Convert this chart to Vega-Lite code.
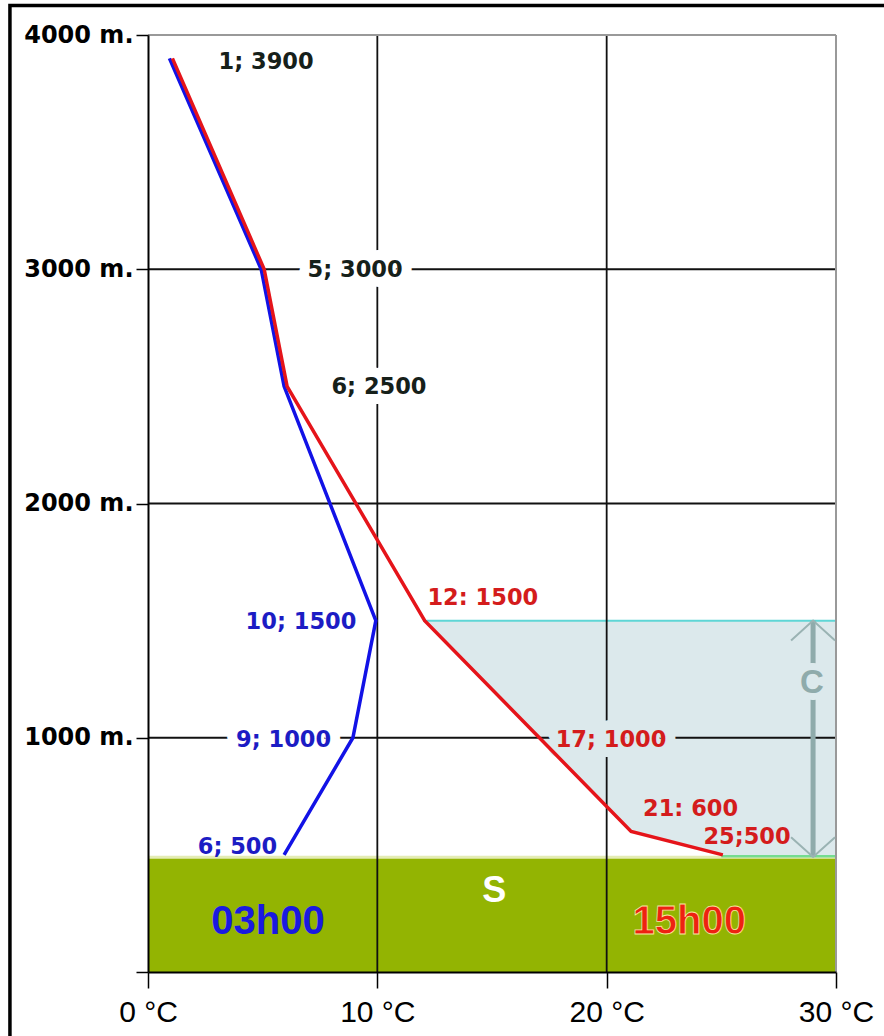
{
  "$schema": "https://vega.github.io/schema/vega-lite/v6.json",
  "width": 688,
  "height": 937,
  "autosize": {"type": "none"},
  "padding": {"left": 148, "top": 35, "right": 48, "bottom": 64},
  "background": "white",
  "config": {"view": {"stroke": null}},
  "datasets": {
    "profile": [
      {"series": "03h00", "t": 1, "h": 3900},
      {"series": "03h00", "t": 5, "h": 3000},
      {"series": "03h00", "t": 6, "h": 2500},
      {"series": "03h00", "t": 10, "h": 1500},
      {"series": "03h00", "t": 9, "h": 1000},
      {"series": "03h00", "t": 6, "h": 500},
      {"series": "15h00", "t": 1, "h": 3900},
      {"series": "15h00", "t": 5, "h": 3000},
      {"series": "15h00", "t": 6, "h": 2500},
      {"series": "15h00", "t": 12, "h": 1500},
      {"series": "15h00", "t": 17, "h": 1000},
      {"series": "15h00", "t": 21, "h": 600},
      {"series": "15h00", "t": 25, "h": 500}
    ],
    "labels": [
      {"text": "1; 3900", "t": 5.15, "h": 3885, "kind": "alt"},
      {"text": "5; 3000", "t": 9.03, "h": 2997, "kind": "alt"},
      {"text": "6; 2500", "t": 10.07, "h": 2497, "kind": "alt"},
      {"text": "10; 1500", "t": 6.67, "h": 1494, "kind": "night"},
      {"text": "9; 1000", "t": 5.91, "h": 990, "kind": "night"},
      {"text": "6; 500", "t": 3.9, "h": 534, "kind": "night"},
      {"text": "12: 1500", "t": 14.6, "h": 1597, "kind": "day"},
      {"text": "17; 1000", "t": 20.19, "h": 990, "kind": "day"},
      {"text": "21: 600", "t": 23.66, "h": 696, "kind": "day"},
      {"text": "25;500", "t": 26.12, "h": 576, "kind": "day"}
    ]
  },
  "encoding": {
    "x": {
      "field": "t",
      "type": "quantitative",
      "scale": {"domain": [0, 30], "nice": false, "zero": false},
      "axis": {
        "values": [0, 10, 20, 30],
        "labelExpr": "datum.value + ' °C'",
        "title": null,
        "grid": false,
        "domainColor": "#000",
        "domainWidth": 2,
        "tickColor": "#000",
        "tickWidth": 1.5,
        "tickSize": 16,
        "labelFont": "Liberation Sans",
        "labelFontSize": 30,
        "labelColor": "#000",
        "labelPadding": 9,
        "labelDx": 10,
        "labelFlush": false,
        "labelOverlap": false,
        "zindex": 1
      }
    },
    "y": {
      "field": "h",
      "type": "quantitative",
      "scale": {"domain": [0, 4000], "nice": false, "zero": false},
      "axis": {
        "values": [0, 1000, 2000, 3000, 4000],
        "labelExpr": "datum.value == 0 ? '' : datum.value + ' m.'",
        "title": null,
        "grid": false,
        "domainColor": "#000",
        "domainWidth": 2,
        "tickColor": "#000",
        "tickWidth": 1.5,
        "tickSize": 12,
        "labelFont": "DejaVu Sans",
        "labelFontWeight": "bold",
        "labelFontSize": 24,
        "labelColor": "#000",
        "labelPadding": 3,
        "labelFlush": false,
        "labelOverlap": false,
        "zindex": 1
      }
    }
  },
  "layer": [
    {
      "data": {"values": [{"t": -6.02, "t2": 32.5, "h": 4126, "h2": -330}]},
      "mark": {"type": "rect", "filled": false, "stroke": "#000", "strokeWidth": 3.5, "clip": false},
      "encoding": {"x2": {"field": "t2"}, "y2": {"field": "h2"}}
    },
    {
      "data": {"values": [
        {"t": 12, "h": 1500},
        {"t": 17, "h": 1000},
        {"t": 21, "h": 600},
        {"t": 25, "h": 500},
        {"t": 25, "h": 490}
      ]},
      "mark": {"type": "area", "orient": "horizontal", "color": "#dce9ec"},
      "encoding": {"x2": {"datum": 30}}
    },
    {
      "data": {"values": [{"t": 0, "t2": 30, "h": 0, "h2": 490}]},
      "mark": {"type": "rect", "color": "#93b402"},
      "encoding": {"x2": {"field": "t2"}, "y2": {"field": "h2"}}
    },
    {
      "data": {"values": [{"t": 0, "t2": 30, "h": 490}]},
      "mark": {"type": "rule", "color": "#e4ecb4", "strokeWidth": 3},
      "encoding": {"x2": {"field": "t2"}}
    },
    {
      "data": {"values": [{"t": 25, "t2": 30, "h": 494}]},
      "mark": {"type": "rule", "color": "#74dc90", "strokeWidth": 2.5},
      "encoding": {"x2": {"field": "t2"}}
    },
    {
      "data": {"values": [{"t": 12, "t2": 30, "h": 1500}]},
      "mark": {"type": "rule", "color": "#5fd6d6", "strokeWidth": 2},
      "encoding": {"x2": {"field": "t2"}}
    },
    {
      "data": {"values": [{"t": 10, "h": 0, "h2": 4000}, {"t": 20, "h": 0, "h2": 4000}]},
      "mark": {"type": "rule", "color": "#111", "strokeWidth": 1.8},
      "encoding": {"y2": {"field": "h2"}}
    },
    {
      "data": {"values": [{"t": 0, "t2": 30, "h": 1000}, {"t": 0, "t2": 30, "h": 2000}, {"t": 0, "t2": 30, "h": 3000}]},
      "mark": {"type": "rule", "color": "#111", "strokeWidth": 1.8},
      "encoding": {"x2": {"field": "t2"}}
    },
    {
      "data": {"values": [{"t": 0, "t2": 30, "h": 4000}]},
      "mark": {"type": "rule", "color": "#999", "strokeWidth": 2},
      "encoding": {"x2": {"field": "t2"}}
    },
    {
      "data": {"values": [{"t": 30, "h": 0, "h2": 4000}]},
      "mark": {"type": "rule", "color": "#999", "strokeWidth": 2},
      "encoding": {"y2": {"field": "h2"}}
    },
    {
      "data": {"values": [{"t": 29, "h": 491, "h2": 1500}]},
      "mark": {"type": "rule", "color": "#8fabab", "strokeWidth": 5},
      "encoding": {"y2": {"field": "h2"}}
    },
    {
      "data": {"name": "labels"},
      "transform": [{"filter": "indexof(['5; 3000', '6; 2500', '9; 1000', '17; 1000'], datum.text) >= 0"}],
      "mark": {"type": "text", "font": "DejaVu Sans", "fontWeight": "bold", "fontSize": 22.5, "align": "center", "baseline": "middle", "fill": "white", "strokeWidth": 20, "strokeJoin": "round"},
      "encoding": {
        "text": {"field": "text"},
        "stroke": {"condition": {"test": "datum.t > 15 && datum.h < 1500", "value": "#dce9ec"}, "value": "white"}
      }
    },
    {
      "data": {"values": [{"text": "C", "t": 28.95, "h": 1234}]},
      "mark": {"type": "text", "font": "Liberation Sans", "fontWeight": "bold", "fontSize": 33, "align": "center", "baseline": "middle", "fill": "#dce9ec", "stroke": "#dce9ec", "strokeWidth": 14, "strokeJoin": "round"},
      "encoding": {"text": {"field": "text"}}
    },
    {
      "data": {"name": "profile"},
      "transform": [{"filter": "datum.series == '03h00'"}],
      "mark": {"type": "line", "strokeWidth": 3.5, "color": "#1212e6", "xOffset": -1.5},
      "encoding": {"order": {"field": "h", "sort": "descending"}}
    },
    {
      "data": {"name": "profile"},
      "transform": [{"filter": "datum.series == '15h00'"}],
      "mark": {"type": "line", "strokeWidth": 3.5, "color": "#e5141a", "xOffset": 1.5},
      "encoding": {"order": {"field": "h", "sort": "descending"}}
    },
    {
      "data": {"name": "labels"},
      "mark": {"type": "text", "font": "DejaVu Sans", "fontWeight": "bold", "fontSize": 22.5, "align": "center", "baseline": "middle"},
      "encoding": {
        "text": {"field": "text"},
        "fill": {"field": "kind", "type": "nominal", "scale": {"domain": ["alt", "night", "day"], "range": ["#16201a", "#1c1cc4", "#d41c1c"]}, "legend": null}
      }
    },
    {
      "data": {"values": [{"text": "C", "t": 28.95, "h": 1234}]},
      "mark": {"type": "text", "font": "Liberation Sans", "fontWeight": "bold", "fontSize": 33, "align": "center", "baseline": "middle", "fill": "#8fabab"},
      "encoding": {"text": {"field": "text"}}
    },
    {
      "data": {"values": [{"text": "03h00", "t": 5.23, "h": 213}]},
      "mark": {"type": "text", "font": "Liberation Sans", "fontWeight": "bold", "fontSize": 40, "align": "center", "baseline": "middle", "fill": "#1a1ae0"},
      "encoding": {"text": {"field": "text"}}
    },
    {
      "data": {"values": [{"text": "15h00", "t": 23.6, "h": 213}]},
      "mark": {"type": "text", "font": "Liberation Sans", "fontWeight": "bold", "fontSize": 40, "align": "center", "baseline": "middle", "fill": "#ee2211", "stroke": "#f4e6a0", "strokeWidth": 0.8},
      "encoding": {"text": {"field": "text"}}
    },
    {
      "data": {"values": [{"text": "S", "t": 15.1, "h": 346}]},
      "mark": {"type": "text", "font": "Liberation Sans", "fontWeight": "bold", "fontSize": 36, "align": "center", "baseline": "middle", "fill": "#ffffff"},
      "encoding": {"text": {"field": "text"}}
    },
    {
      "data": {"values": [{"t": 29, "h": 1500}]},
      "mark": {"type": "point", "shape": "M-1,0.9L0,0L1,0.9", "size": 1936, "filled": false, "stroke": "#9ab3b3", "strokeWidth": 2, "opacity": 1}
    },
    {
      "data": {"values": [{"t": 29, "h": 491}]},
      "mark": {"type": "point", "shape": "M-1,-0.9L0,0L1,-0.9", "size": 1936, "filled": false, "stroke": "#9ab3b3", "strokeWidth": 2, "opacity": 1}
    }
  ]
}
